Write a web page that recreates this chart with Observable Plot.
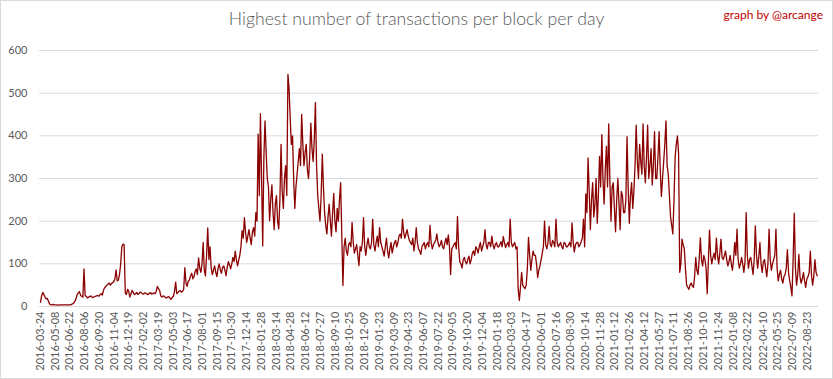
<!DOCTYPE html>
<html><head><meta charset="utf-8">
<script src="https://cdn.jsdelivr.net/npm/d3@7"></script>
<script src="https://cdn.jsdelivr.net/npm/@observablehq/plot@0.6"></script>
<style>
body{margin:0;background:#fff;}
#chart{position:relative;width:833px;height:379px;overflow:hidden;font-family:Lato,sans-serif;background:#fff}
#chart svg{position:absolute;left:0;top:0}
#title{position:absolute;left:0;width:833px;top:8px;text-align:center;font-size:17.7px;font-weight:300;color:#595959;white-space:nowrap}
#credit{position:absolute;right:10px;top:7px;font-size:12px;color:#c00000;white-space:nowrap}
#border{position:absolute;left:0;top:0;width:833px;height:379px;box-sizing:border-box;border:1px solid #d9d9d9;pointer-events:none}
</style></head><body>
<div id="chart"><div id="title">Highest number of transactions per block per day</div><div id="credit">graph by @arcange</div><div id="border"></div></div>
<script>
const startDate = "2016-03-24";
const stepHours = 84;
const values = [
10,25,33,28,22,18,19,12,6,4,4,5,4,4,4,3,3,4,4,4,
4,4,4,4,4,4,4,5,6,8,12,18,28,32,35,26,24,22,88,25,
24,20,22,23,25,22,21,23,24,25,26,24,28,30,27,38,44,47,50,52,
55,50,54,56,58,65,86,60,62,75,100,140,146,145,32,28,40,36,22,30,
38,33,28,30,33,28,30,34,32,30,29,32,31,29,28,31,33,29,30,32,
30,35,47,42,38,25,22,25,24,21,20,22,23,20,17,21,24,35,57,30,
33,36,37,34,35,40,91,55,47,60,62,72,78,65,70,82,88,75,114,90,
80,100,150,85,72,120,184,110,140,90,75,85,95,80,70,90,100,85,78,92,
95,85,72,92,105,98,88,100,115,105,130,110,95,108,120,140,178,160,208,175,
150,165,180,160,145,175,185,165,220,200,404,260,452,300,142,350,435,360,300,280,
201,250,285,220,180,240,260,200,182,250,380,270,230,300,330,260,544,510,440,380,
400,300,230,280,310,340,370,330,450,380,330,360,380,320,300,350,430,370,340,390,
478,330,260,230,200,260,357,280,220,190,170,210,240,200,165,220,265,200,175,230,
200,250,290,170,49,140,160,130,120,145,150,140,197,150,125,135,145,120,96,140,
130,150,208,140,120,145,160,140,135,150,205,145,130,150,165,140,185,150,140,130,
118,140,160,130,114,135,150,125,140,150,155,140,150,165,170,160,205,175,160,170,
180,165,155,150,145,160,130,150,185,150,135,130,122,140,145,150,135,145,150,140,
190,150,135,145,150,155,170,150,140,145,155,140,135,150,160,145,168,140,75,135,
140,145,150,135,211,140,105,100,90,110,115,105,100,110,118,100,110,125,130,120,
140,135,125,140,150,130,140,150,180,145,135,150,150,140,165,145,135,145,150,140,
140,145,152,140,164,150,138,145,150,140,205,150,140,145,150,135,140,40,14,45,
80,50,45,42,50,90,162,120,85,110,130,120,120,100,68,85,95,110,125,140,
200,145,135,150,188,145,140,155,150,140,205,150,140,145,150,140,135,150,148,140,
140,145,150,140,196,150,128,145,150,150,140,145,152,160,205,140,264,220,348,270,
180,250,290,210,240,300,195,260,352,280,403,300,240,320,375,280,428,300,200,280,
290,230,175,250,300,240,180,270,260,220,220,250,398,280,195,260,290,230,270,330,
425,340,300,380,340,310,428,330,290,350,425,300,330,370,285,330,410,300,300,350,
410,320,258,300,340,380,435,330,310,260,210,190,170,250,350,380,400,360,80,100,
158,145,135,90,50,45,40,50,55,48,45,70,115,85,75,110,161,110,95,120,
110,90,30,105,179,120,100,115,125,110,160,120,100,125,158,115,110,120,130,110,
95,105,120,100,85,110,150,120,181,110,90,100,115,100,80,105,220,120,90,110,
115,95,75,110,189,120,90,115,150,100,80,105,110,90,70,100,181,110,85,100,
110,120,181,90,60,75,85,65,55,70,75,90,133,80,60,45,25,110,219,90,
50,75,122,70,55,65,80,60,45,65,70,80,130,75,50,70,110,80,72
];
const tickLabels = [
"2016-03-24","2016-05-08","2016-06-22","2016-08-06","2016-09-20","2016-11-04","2016-12-19",
"2017-02-02","2017-03-19","2017-05-03","2017-06-17","2017-08-01","2017-09-15","2017-10-30","2017-12-14",
"2018-01-28","2018-03-14","2018-04-28","2018-06-12","2018-07-27","2018-09-10","2018-10-25","2018-12-09",
"2019-01-23","2019-03-09","2019-04-23","2019-06-07","2019-07-22","2019-09-05","2019-10-20","2019-12-04",
"2020-01-18","2020-03-03","2020-04-17","2020-06-01","2020-07-16","2020-08-30","2020-10-14","2020-11-28",
"2021-01-12","2021-02-26","2021-04-12","2021-05-27","2021-07-11","2021-08-26","2021-10-10","2021-11-24",
"2022-01-08","2022-02-22","2022-04-10","2022-05-25","2022-07-09","2022-08-23"
];
const yTicks = [0,100,200,300,400,500,600];

const parse = d3.utcParse("%Y-%m-%d");
const t0 = parse(startDate);
const data = values.map((v, i) => ({date: d3.utcHour.offset(t0, stepHours * i), value: v}));

const plot = Plot.plot({
  width: 833, height: 379,
  marginLeft: 39, marginRight: 15, marginTop: 50, marginBottom: 73,
  style: {background: "transparent", fontFamily: "Lato, sans-serif", fontSize: "11px", color: "#595959"},
  x: {type: "utc", domain: [parse("2016-03-21"), parse("2022-09-26")], ticks: tickLabels.map(parse),
      tickFormat: d3.utcFormat("%Y-%m-%d"), tickRotate: -90, tickSize: 0, tickPadding: 5, label: null},
  y: {domain: [0, 600], ticks: yTicks, tickSize: 0, tickPadding: 12, label: null},
  marks: [
    Plot.ruleY(yTicks, {stroke: "#d9d9d9", strokeWidth: 1}),
    Plot.line(data, {x: "date", y: "value", stroke: "#8b0000", strokeWidth: 1.3})
  ]
});
document.getElementById("chart").insertBefore(plot, document.getElementById("title"));
</script>
</body></html>
